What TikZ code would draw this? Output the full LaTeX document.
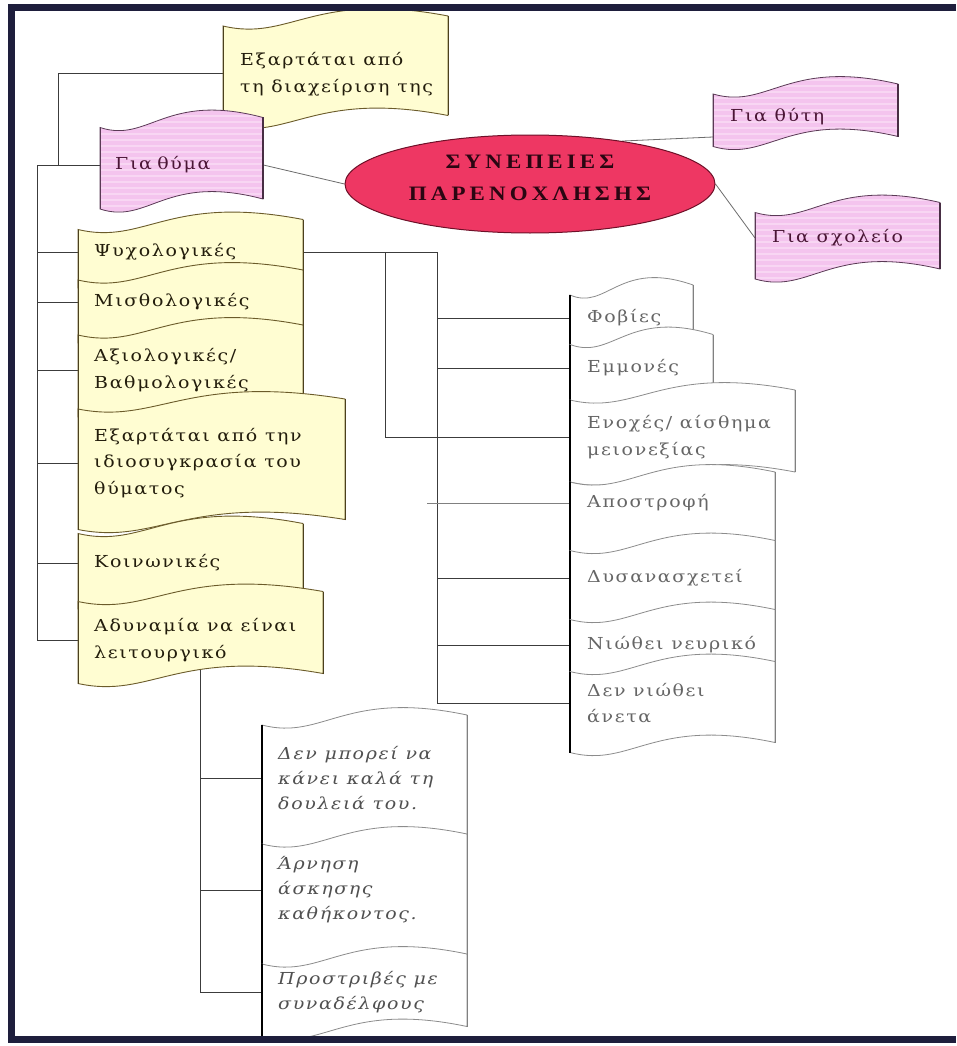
\documentclass[tikz,border=0pt]{standalone}
\usepackage{fontspec}
\usetikzlibrary{shapes.geometric,patterns.meta}
\newfontfamily\bodyfont{DejaVu Serif}[LetterSpace=10,FakeStretch=1.15]
\newfontfamily\titlefont{Liberation Serif}[LetterSpace=20,FakeStretch=1.12]

\pgfdeclarelayer{paper}
\pgfdeclarelayer{bg}
\pgfsetlayers{paper,bg,main}

\definecolor{framec}{HTML}{1E1E3C}
\definecolor{yfill}{HTML}{FFFDD2}
\definecolor{yedge}{HTML}{6B5B2A}
\definecolor{ytext}{HTML}{231D0C}
\definecolor{pfill}{HTML}{F4C4EE}
\definecolor{pstripe}{HTML}{F8D6F3}
\definecolor{pedge}{HTML}{5A3A55}
\definecolor{ptext}{HTML}{4A1535}
\definecolor{ellfill}{HTML}{EE3763}
\definecolor{elledge}{HTML}{6E1028}
\definecolor{ttext}{HTML}{2A0612}
\definecolor{wedge}{HTML}{8C8C8C}
\definecolor{wtext}{HTML}{666666}
\definecolor{itext}{HTML}{505050}
\definecolor{linec}{HTML}{3C3C3C}

% wavy banner: style, left x, top mid y, right x, bottom mid y, left side style, right side style
\newcommand\wavebox[7]{%
  \pgfmathsetmacro\wvA{#2+0.3*(#4-#2)}%
  \pgfmathsetmacro\wvB{#2+0.4*(#4-#2)}%
  \path[#1] (#2,#3+6) .. controls (\wvA,#3+22) and (\wvB,#3-30) .. (#4,#3-4)
    -- (#4,#5-4) .. controls (\wvB,#5-30) and (\wvA,#5+22) .. (#2,#5+6) -- cycle;
  \draw[#6] (#2,#3+6) -- (#2,#5+6);
  \draw[#7] (#4,#3-4) -- (#4,#5-4);
}

\tikzset{
  ybox/.style={fill=yfill, draw=yedge, line width=0.9pt},
  yside/.style={draw=yedge!70!black, line width=1pt},
  pbox/.style={preaction={fill=pfill}, pattern={Lines[angle=0,distance=6pt,line width=2pt]},
               pattern color=pstripe, draw=pedge, line width=0.8pt},
  pleft/.style={draw=pedge, line width=1pt},
  pright/.style={draw=pedge!80!black, line width=2.2pt},
  wbox/.style={fill=white, draw=wedge, line width=0.8pt},
  wleft/.style={draw=black, line width=1.5pt},
  wright/.style={draw=gray, line width=0.9pt},
  lbl/.style={anchor=west, align=left, inner xsep=16pt, inner ysep=0pt,
              font=\bodyfont\fontsize{16.5}{26.5}\selectfont},
  ylbl/.style={lbl, text=ytext},
  plbl/.style={lbl, text=ptext, inner xsep=17pt},
  wlbl/.style={lbl, text=wtext, inner xsep=17pt},
  ilbl/.style={lbl, text=itext, font=\bodyfont\itshape\fontsize{16.5}{25}\selectfont},
  conn/.style={draw=linec, line width=1pt},
  thinconn/.style={draw=linec!75, line width=0.8pt},
}

\begin{document}
\begin{tikzpicture}[x=1pt,y=-1pt]
\begin{pgfonlayer}{paper}
\fill[white] (0,0) rectangle (956,1046);
\end{pgfonlayer}
\useasboundingbox (0,0) rectangle (956,1046);

% upper branch and the three groups
\wavebox{ybox}{223}{20}{448}{119.5}{yside}{yside}
\node[ylbl, inner xsep=17pt] (dep1) at (223,74) {Εξαρτάται από\\τη διαχείριση της};

\wavebox{pbox}{100}{121.5}{263}{203}{pleft}{pright}
\node[plbl, text width=133pt, inner xsep=15pt] (victim) at (100,165) {Για θύμα};

\node[ellipse, draw=elledge, line width=1pt, fill=ellfill, minimum width=370pt,
      minimum height=98pt, inner sep=0pt, text=ttext,
      font=\titlefont\bfseries\fontsize{20.5}{32}\selectfont] (ell) at (530,184)
  {\raisebox{1pt}[0pt][0pt]{\begin{tabular}{@{}c@{}}ΣΥΝΕΠΕΙΕΣ\\ΠΑΡΕΝΟΧΛΗΣΗΣ\end{tabular}}};

\wavebox{pbox}{713}{88}{898}{140.5}{pleft}{pright}
\node[plbl] (perp) at (713,117) {Για θύτη};
\wavebox{pbox}{755}{206.5}{940}{273}{pleft}{pright}
\node[plbl] (school) at (755,238) {Για σχολείο};

% consequences for the victim
\wavebox{ybox}{78}{223.5}{303}{282}{yside}{yside}
\node[ylbl, text width=193pt] (psy) at (78,252) {Ψυχολογικές};
\wavebox{ybox}{78}{274}{303}{337}{yside}{yside}
\node[ylbl] (mis) at (78,302) {Μισθολογικές};
\wavebox{ybox}{78}{329}{303}{411}{yside}{yside}
\node[ylbl] (axi) at (78,370) {Αξιολογικές/\\Βαθμολογικές};
\wavebox{ybox}{78}{403}{345}{523.5}{yside}{yside}
\node[ylbl] (idio) at (78,463) {Εξαρτάται από την\\ιδιοσυγκρασία του\\θύματος};
\wavebox{ybox}{78}{527.5}{303}{603}{yside}{yside}
\node[ylbl] (koin) at (78,563) {Κοινωνικές};
\wavebox{ybox}{78}{595.5}{323}{677.5}{yside}{yside}
\node[ylbl] (adyn) at (78,640) {Αδυναμία να είναι\\λειτουργικό};

% psychological effects
\wavebox{wbox}{570}{289}{693}{355}{wleft}{wright}
\node[wlbl] (fob) at (570,318) {Φοβίες};
\wavebox{wbox}{570}{338.5}{713}{412}{wleft}{wright}
\node[wlbl] (emm) at (570,368) {Εμμονές};
\wavebox{wbox}{570}{394}{795}{476}{wleft}{wright}
\node[wlbl] (eno) at (570,437) {Ενοχές/ αίσθημα\\μειονεξίας};
\wavebox{wbox}{570}{476}{775}{555}{wleft}{wright}
\node[wlbl] (apo) at (570,503) {Αποστροφή};
\wavebox{wbox}{570}{544.5}{775}{622}{wleft}{wright}
\node[wlbl] (dys) at (570,578) {Δυσανασχετεί};
\wavebox{wbox}{570}{613.5}{775}{675}{wleft}{wright}
\node[wlbl] (niw) at (570,645) {Νιώθει νευρικό};
\wavebox{wbox}{570}{665.5}{775}{746.5}{wleft}{wright}
\node[wlbl] (den) at (570,703) {Δεν νιώθει\\άνετα};

% effects at work
\wavebox{wbox}{262}{719}{467}{848}{wleft}{wright}
\node[ilbl] (dmp) at (262,778) {Δεν μπορεί να\\κάνει καλά τη\\δουλειά του.};
\wavebox{wbox}{262}{838}{467}{968}{wleft}{wright}
\node[ilbl] (arn) at (262,890) {Άρνηση\\άσκησης\\καθήκοντος.};
\wavebox{wbox}{262}{958}{467}{1030.5}{wleft}{wright}
\node[ilbl] (pro) at (262,992) {Προστριβές με\\συναδέλφους};

% connectors, behind the banners
\begin{pgfonlayer}{bg}
\coordinate (jt) at (58,74);
\coordinate (lb) at (37,0);
\coordinate (rv) at (437,0);
\coordinate (lv) at (385,0);
\coordinate (bv) at (200,0);
\draw[conn] (dep1.west) -- (jt) -- (jt |- victim.west);
\draw[conn] (victim.west) -- (victim.west -| lb) -- (adyn.west -| lb) -- (adyn.west);
\foreach \nm in {psy,mis,axi,idio,koin} \draw[conn] (\nm.west) -- (\nm.west -| lb);
\draw[thinconn] (victim.east) -- (ell.west);
\draw[thinconn] ([yshift=-20pt]perp.west) -- (ell.25);
\draw[thinconn] (ell.east) -- (school.west);
\draw[conn] (psy.east) -- (psy.east -| rv) -- (den.west -| rv) -- (den.west);
\draw[conn] (psy.east -| lv) -- (eno.west -| lv) -- (eno.west);
\foreach \nm in {fob,emm,dys,niw} \draw[conn] (\nm.west) -- (\nm.west -| rv);
\draw[conn, draw=gray] (apo.west) -- ++(-143,0);
\draw[conn] (bv |- adyn.center) -- (bv |- pro.west) -- (pro.west);
\foreach \nm in {dmp,arn} \draw[conn] (\nm.west) -- (\nm.west -| bv);
\end{pgfonlayer}

% page frame, open on the right
\draw[framec, line width=7pt] (956,8) -- (11,8) -- (11,1039) -- (956,1039);
\end{tikzpicture}
\end{document}
